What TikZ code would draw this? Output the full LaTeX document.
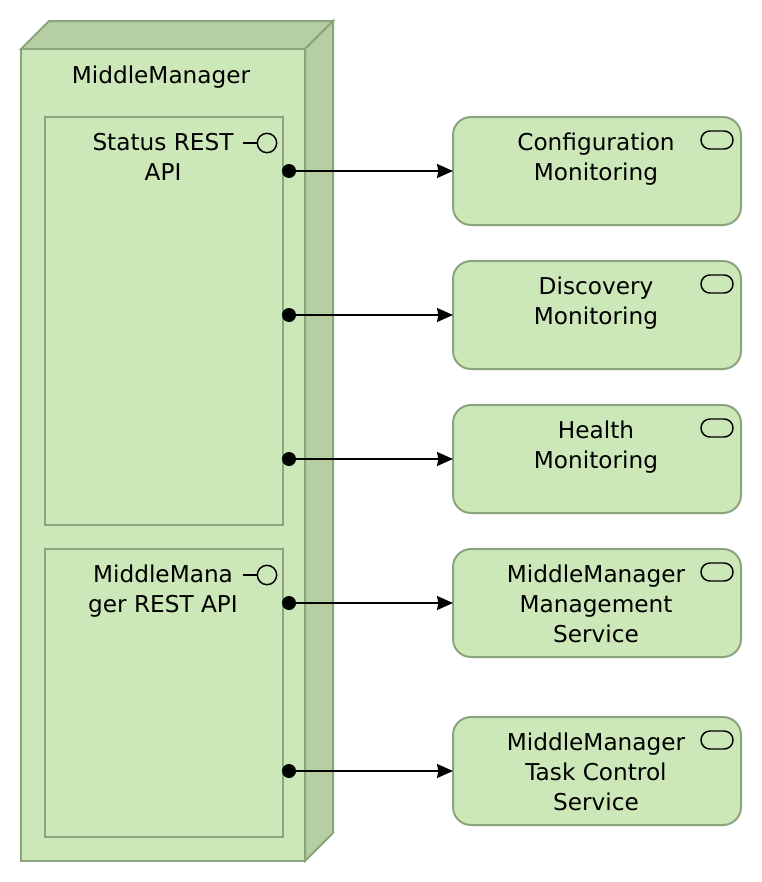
\documentclass[tikz,border=0pt]{standalone}
\usepackage{fontspec}
\setmainfont{DejaVu Sans}
\usetikzlibrary{positioning,arrows.meta}
\definecolor{boxfill}{HTML}{CCE7B8}
\definecolor{boxside}{HTML}{B5CFA3}
\definecolor{boxline}{HTML}{8BA47E}
\tikzset{
  part/.style={draw=boxline,fill=boxfill,line width=1.5pt,line join=miter,outer sep=0pt},
  apibox/.style={part,anchor=north west,minimum width=178.5pt,inner sep=0pt},
  service/.style={part,rounded corners=13.5pt,minimum width=216pt,minimum height=81pt,inner sep=0pt},
  caption/.style={anchor=base,align=center,inner sep=0pt,font=\fontsize{17.4}{22.5}\selectfont},
  lollipop/.style={circle,draw=black,line width=1.1pt,fill=none,minimum size=14.5pt,inner sep=0pt},
  pill/.style={draw=black,line width=1.1pt,rounded corners=6.7pt,minimum width=24pt,minimum height=13.5pt,inner sep=0pt},
  dot/.style={circle,fill=black,minimum size=10.5pt,inner sep=0pt},
  link/.style={-{Stealth[length=12pt,width=10.5pt,inset=1pt]},line width=1.2pt,black}
}
\begin{document}
\begin{tikzpicture}[x=0.75pt,y=-0.75pt]
  \useasboundingbox (0,0) rectangle (762,882);
  % the node block
  \draw[part,fill=boxside] (21,49) -- (49,21) -- (333,21) -- (305,49) -- cycle;
  \draw[part,fill=boxside] (305,49) -- (333,21) -- (333,833) -- (305,861) -- cycle;
  \draw[part] (21,49) rectangle (305,861);
  \node[caption] (lbl_mm) at (161,83) {MiddleManager};
  % the two interfaces
  \node[apibox,minimum height=306pt] (api_st) at (45,117) {};
  \node[apibox,minimum height=216pt] (api_mm) at (45,549) {};
  \node[caption] (lbl_st) at (163,180) {Status REST\\API};
  \node[caption] (lbl_ma) at (163,612) {MiddleMana\\ger REST API};
  \node[lollipop] (ic_st) at (267,143) {};
  \node[lollipop] (ic_mm) at (267,575) {};
  \coordinate (st_stub) at (243,143);
  \coordinate (mm_stub) at (243,575);
  \draw[line width=1.1pt] (st_stub) -- (ic_st);
  \draw[line width=1.1pt] (mm_stub) -- (ic_mm);
  % services
  \node[service] (s_cfg) at (597,171) {};
  \node[service] (s_dis) at (597,315) {};
  \node[service] (s_hea) at (597,459) {};
  \node[service] (s_mgt) at (597,603) {};
  \node[service] (s_tsk) at (597,771) {};
  \node[caption] (t_cfg) at (596,180) {Configuration\\Monitoring};
  \node[caption] (t_dis) at (596,324) {Discovery\\Monitoring};
  \node[caption] (t_hea) at (596,468) {Health\\Monitoring};
  \node[caption] (t_mgt) at (596,642) {MiddleManager\\Management\\Service};
  \node[caption] (t_tsk) at (596,810) {MiddleManager\\Task Control\\Service};
  \foreach \n/\y in {cfg/140,dis/284,hea/428,mgt/572,tsk/740}
    \node[pill] (p_\n) at (717,\y) {};
  % connectors
  \foreach \n/\y in {cfg/171,dis/315,hea/459,mgt/603,tsk/771}{
    \node[dot] (d_\n) at (289,\y) {};
    \draw[link] (d_\n) -- (s_\n);
  }
\end{tikzpicture}
\end{document}
